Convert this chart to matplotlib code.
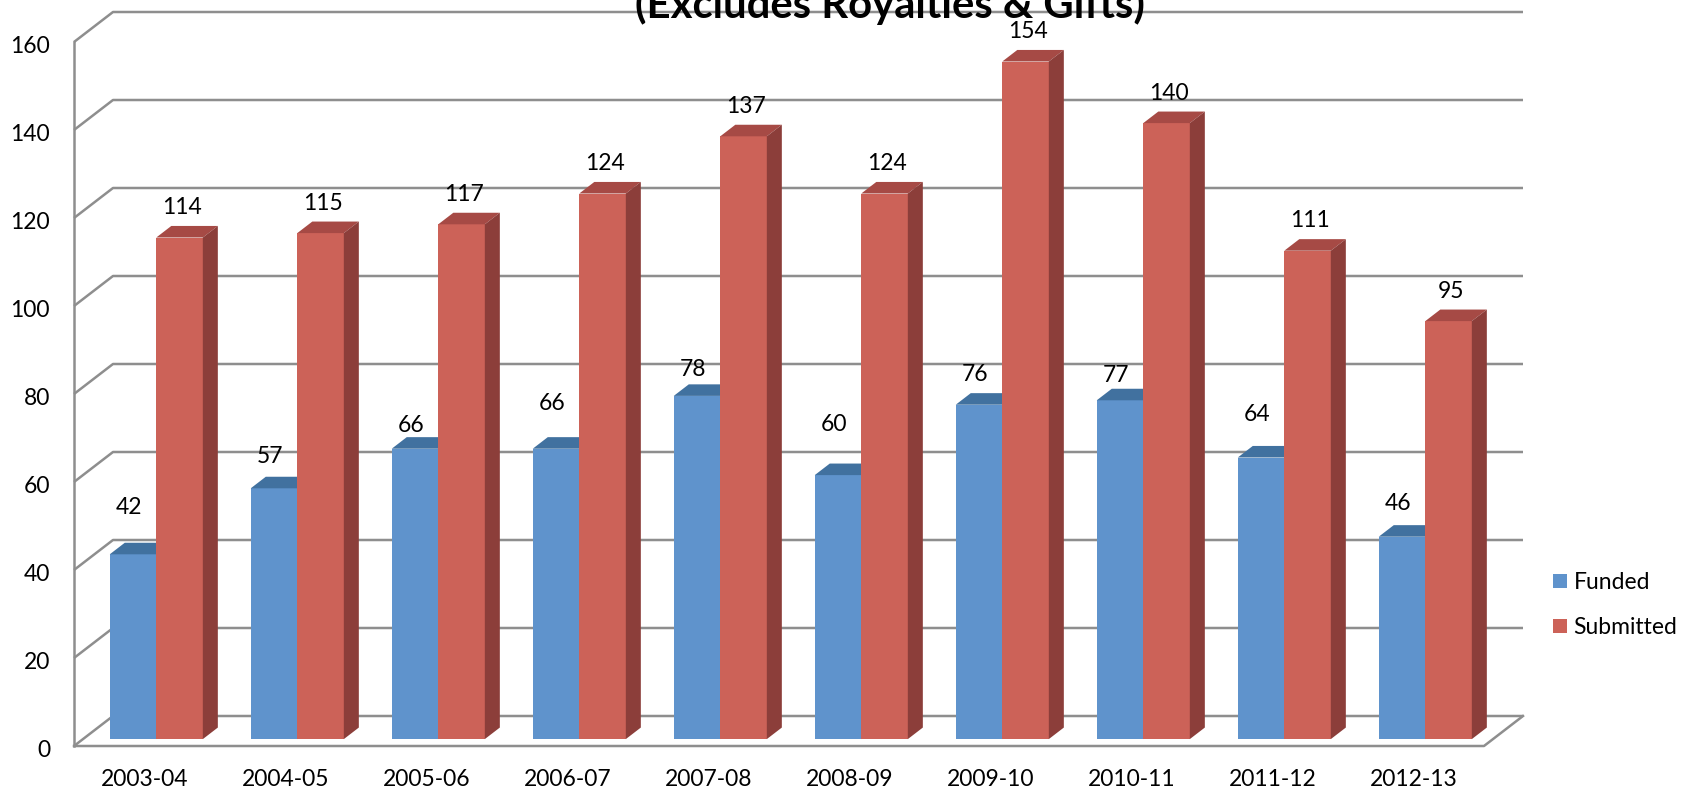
import matplotlib
matplotlib.use("Agg")
import matplotlib.pyplot as plt
from matplotlib.patches import Polygon, Patch

# ---------------- data ----------------
categories = ["2003-04", "2004-05", "2005-06", "2006-07", "2007-08",
              "2008-09", "2009-10", "2010-11", "2011-12", "2012-13"]
funded = [42, 57, 66, 66, 78, 60, 76, 77, 64, 46]
submitted = [114, 115, 117, 124, 137, 124, 154, 140, 111, 95]
y_ticks = [0, 20, 40, 60, 80, 100, 120, 140, 160]
title_text = "(Excludes Royalties & Gifts)"

# label placement offsets (style, in value units above bar top)
funded_label_dy = [12.3, 8.8, 6.9, 11.8, 7.6, 13.1, 8.4, 7.1, 11.3, 9.1]
submitted_label_dy = 8.4

# ---------------- style / geometry ----------------
W, H, DPI = 1684, 796, 100
PX_X0, PX_CAT = 74.0, 141.0       # pixel of category origin, pixels per category
PX_Y0, PX_UNIT = 746.0, 4.4       # pixel row of value 0 (front), pixels per unit
DX = 39.0 / PX_CAT                # depth offset in x (data units)
DY = 30.0 / PX_UNIT               # depth offset in y (data units)
D0, DD = 0.23, 0.385              # bar front depth and bar depth (fractions)
BAR_L, BAR_M, BAR_R = 0.19, 0.52, 0.85
FONT = "Lato"
FS = 16.5
GRID_C = "#8E8E8E"
BLUE_F, BLUE_T, BLUE_S = "#5F93CC", "#41719F", "#3E6A93"
RED_F, RED_T, RED_S = "#CC6258", "#A64A45", "#8C3E3A"

fig = plt.figure(figsize=(W / DPI, H / DPI), dpi=DPI)
ax = fig.add_axes([0, 0, 1, 1])
ax.set_xlim(-PX_X0 / PX_CAT, (W - PX_X0) / PX_CAT)
ax.set_ylim(-(H - PX_Y0) / PX_UNIT, PX_Y0 / PX_UNIT)
ax.axis("off")

n = len(categories)
ymax = y_ticks[-1]

# walls / gridlines
for v in y_ticks:
    ax.plot([0, DX, n + DX], [v, v + DY, v + DY], color=GRID_C, lw=1.8,
            zorder=1, solid_capstyle="butt")
# floor front edge and right edge
ax.plot([0, n, n + DX], [0, 0, DY], color=GRID_C, lw=1.8, zorder=1)
# front vertical axis
ax.plot([0, 0], [0, ymax], color=GRID_C, lw=1.8, zorder=1)

# bars
def draw_bar(xl, xr, val, cf, ct, cs, side, z):
    base = D0 * DY
    ax.bar((xl + xr) / 2, val, width=xr - xl, bottom=base, color=cf,
           edgecolor="none", zorder=z)
    top = base + val
    ax.add_patch(Polygon([(xl, top), (xr, top), (xr + DD * DX, top + DD * DY),
                          (xl + DD * DX, top + DD * DY)], closed=True,
                         facecolor=ct, edgecolor="none", zorder=z))
    if side:
        ax.add_patch(Polygon([(xr, base), (xr, top),
                              (xr + DD * DX, top + DD * DY),
                              (xr + DD * DX, base + DD * DY)], closed=True,
                             facecolor=cs, edgecolor="none", zorder=z))

shift = D0 * DX
for i in range(n):
    xl = i + BAR_L + shift
    xm = i + BAR_M + shift
    xr = i + BAR_R + shift
    draw_bar(xl, xm, funded[i], BLUE_F, BLUE_T, BLUE_S, True, 2 + 2 * i)
    draw_bar(xm, xr, submitted[i], RED_F, RED_T, RED_S, True, 3 + 2 * i)
    ax.text((xl + xm) / 2 - 0.03, funded[i] + funded_label_dy[i],
            str(funded[i]), ha="center", va="center", fontsize=FS,
            family=FONT, zorder=40)
    ax.text((xm + xr) / 2 + 0.02, submitted[i] + submitted_label_dy,
            str(submitted[i]), ha="center", va="center", fontsize=FS,
            family=FONT, zorder=40)

# axis labels
for v in y_ticks:
    ax.text(-24 / PX_CAT, v - 1.0, str(v), ha="right", va="center",
            fontsize=FS, family=FONT)
for i, c in enumerate(categories):
    ax.text(i + 0.5, -34 / PX_UNIT, c, ha="center", va="center",
            fontsize=FS, family=FONT)

# legend
handles = [Patch(facecolor=BLUE_F, edgecolor="none"),
           Patch(facecolor=RED_F, edgecolor="none")]
leg = ax.legend(handles, ["Funded", "Submitted"], loc="upper left",
                bbox_to_anchor=(1553 / W, 1 - 572 / H), frameon=False,
                prop={"family": FONT, "size": FS}, handlelength=0.6,
                handleheight=0.6, handletextpad=0.3, labelspacing=1.05,
                borderpad=0, borderaxespad=0)

# title, fitted to width (cut at the top edge as in the reference)
t = fig.text(890 / W, 1 - 18 / H, title_text, ha="center", va="baseline",
             fontsize=26, fontweight="bold", family=FONT)
r = fig.canvas.get_renderer()
w = t.get_window_extent(renderer=r).width
t.set_fontsize(26 * 511 / w)

fig.savefig("out.png", dpi=DPI)
